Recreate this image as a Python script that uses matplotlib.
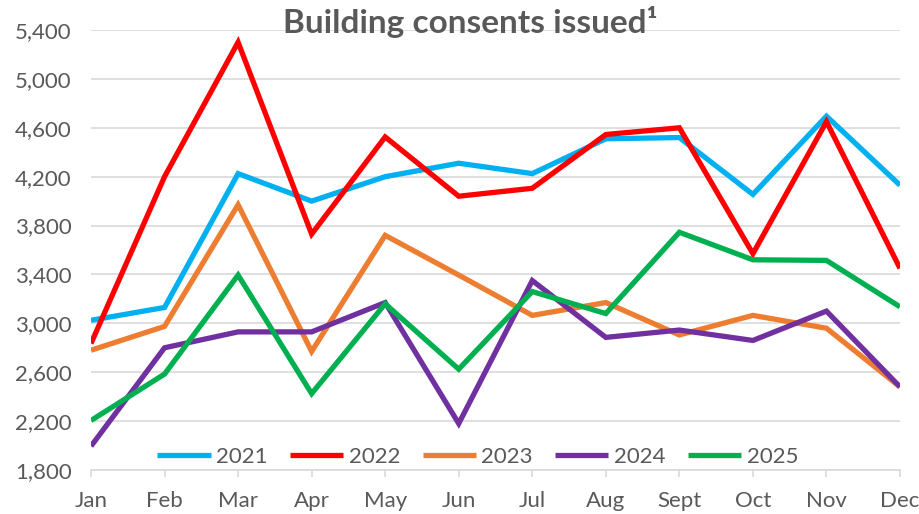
import matplotlib

matplotlib.use("Agg")
import matplotlib.pyplot as plt

months = ["Jan", "Feb", "Mar", "Apr", "May", "Jun", "Jul", "Aug", "Sept", "Oct", "Nov", "Dec"]

consents_2021 = [3025, 3130, 4225, 4000, 4200, 4310, 4225, 4510, 4520, 4055, 4695, 4130]
consents_2022 = [2835, 4200, 5300, 3730, 4525, 4040, 4105, 4545, 4600, 3570, 4650, 3450]
consents_2023 = [2780, 2975, 3970, 2770, 3720, 3395, 3065, 3170, 2905, 3065, 2960, 2480]
consents_2024 = [1995, 2800, 2930, 2930, 3170, 2180, 3350, 2885, 2945, 2860, 3100, 2480]
consents_2025 = [2205, 2585, 3395, 2425, 3160, 2625, 3260, 3080, 3745, 3520, 3515, 3135]

series = [
    ("2021", consents_2021, "#00B0F0"),
    ("2022", consents_2022, "#FF0000"),
    ("2023", consents_2023, "#ED7D31"),
    ("2024", consents_2024, "#7030A0"),
    ("2025", consents_2025, "#00B050"),
]

text_color = "#595959"
grid_color = "#D9D9D9"
plt.rcParams["font.family"] = ["Lato", "DejaVu Sans"]

fig = plt.figure(figsize=(9.2, 5.14), dpi=100)
fig.patch.set_facecolor("white")
ax = fig.add_axes([91 / 920, 1 - 470 / 514, 809 / 920, 440 / 514])

x = list(range(len(months)))
for label, values, color in series:
    ax.plot(x, values, color=color, linewidth=3.8, label=label,
            solid_joinstyle="miter", solid_capstyle="butt")

ax.set_xlim(0, len(months) - 1)
ax.set_ylim(1800, 5400)
ax.set_yticks(range(1800, 5401, 400))
ax.yaxis.set_major_formatter(matplotlib.ticker.FuncFormatter(lambda v, p: f"{int(v):,}"))
ax.set_xticks(x)
ax.set_xticklabels(months)

ax.grid(True, axis="y", color=grid_color, linewidth=1.2, zorder=0)
ax.set_axisbelow(True)
for spine in ("top", "right", "left"):
    ax.spines[spine].set_visible(False)
ax.spines["bottom"].set_color(grid_color)
ax.spines["bottom"].set_linewidth(1.2)

ax.tick_params(axis="y", length=0, pad=14, labelsize=16, labelcolor=text_color)
ax.tick_params(axis="x", length=5, width=1.2, color=grid_color, pad=10,
               labelsize=16, labelcolor=text_color)

leg = ax.legend(loc="center", bbox_to_anchor=(0.478, 0.03), ncol=5, frameon=False,
                fontsize=16, handlelength=2.4, handletextpad=0.25, columnspacing=1.0)
for t in leg.get_texts():
    t.set_color(text_color)

fig.text(0.511, 0.958, "Building consents issued\u00b9", ha="center", va="center",
         fontsize=24, fontweight="bold", color=text_color)

fig.savefig("out.png", dpi=100)
